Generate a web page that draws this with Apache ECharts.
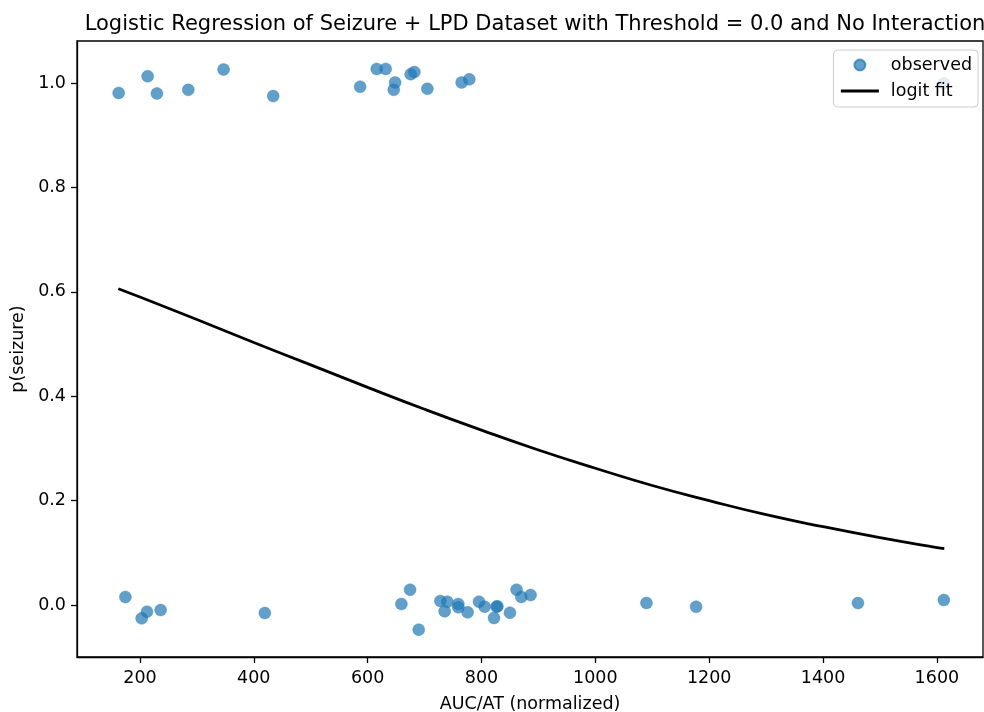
<!DOCTYPE html>
<html>
<head>
<meta charset="utf-8">
<script src="https://cdn.jsdelivr.net/npm/echarts@6/dist/echarts.min.js"></script>
<style>
html,body{margin:0;padding:0;background:#fff;}
#chart{width:984px;height:712px;}
</style>
</head>
<body>
<div id="chart"></div>
<script>
// Observed points (x = AUC/AT normalized, y = jittered outcome)
const obsX = [162.6, 213.5, 229.8, 284.9, 346.9, 434.1, 586.8, 615.9, 631.7, 648.2, 645.8, 675.6, 682.1, 704.9, 765.1, 778.6, 1612.2,
              174.4, 212.3, 203.0, 236.3, 419.4, 659.3, 674.5, 689.7, 727.7, 740.0, 735.3, 759.3, 759.3, 775.6, 795.6, 805.5, 826.5, 828.0, 822.0, 850.0, 861.6, 869.9, 886.2, 1089.8, 1177.0, 1461.3, 1612.2];
const obsY = [0.981, 1.013, 0.980, 0.987, 1.026, 0.975, 0.993, 1.027, 1.027, 1.001, 0.987, 1.017, 1.021, 0.989, 1.001, 1.007, 0.999,
              0.0153, -0.0128, -0.0255, -0.0096, -0.0153, 0.0019, 0.0293, -0.0473, 0.0077, 0.0063, -0.0121, 0.0019, -0.0044, -0.0140, 0.0063, -0.0032, -0.0032, -0.0025, -0.0249, -0.0147, 0.0293, 0.0153, 0.0192, 0.0038, -0.0032, 0.0038, 0.0096];
// Logit fit curve
const fitX = [162, 200, 300, 400, 500, 600, 700, 800, 900, 1000, 1100, 1200, 1300, 1400, 1500, 1600, 1613];
const fitY = [0.606, 0.590, 0.547, 0.503, 0.460, 0.417, 0.375, 0.335, 0.297, 0.262, 0.229, 0.200, 0.173, 0.150, 0.129, 0.110, 0.108];
// Tick labels
const xTicks = [200, 400, 600, 800, 1000, 1200, 1400, 1600];
const yTicks = [0.0, 0.2, 0.4, 0.6, 0.8, 1.0];

const FONT = 'DejaVu Sans';
const FS = 17.5;
const PT = 'rgba(31,119,180,0.88)';
const chart = echarts.init(document.getElementById('chart'), null, {renderer: 'canvas'});
chart.setOption({
  animation: false,
  textStyle: {fontFamily: FONT, color: '#000'},
  title: {
    text: 'Logistic Regression of Seizure + LPD Dataset with Threshold = 0.0 and No Interaction',
    left: 530, top: 9, textAlign: 'center',
    textStyle: {fontFamily: FONT, fontSize: 21, fontWeight: 'normal', color: '#000'}
  },
  legend: {
    orient: 'vertical',
    right: 6, top: 50,
    padding: [5, 6, 6, 6],
    itemWidth: 38, itemHeight: 11, itemGap: 6,
    borderColor: '#cccccc', borderWidth: 1, borderRadius: 4,
    backgroundColor: 'rgba(255,255,255,0.8)',
    textStyle: {fontFamily: FONT, fontSize: FS, color: '#000', lineHeight: 20, padding: [0, 0, 0, 7]},
    data: [
      {name: 'observed', icon: 'circle', itemStyle: {color: PT}},
      {name: 'logit fit', itemStyle: {color: 'rgba(0,0,0,0)', borderColor: 'rgba(0,0,0,0)', borderWidth: 0}, lineStyle: {color: '#000', width: 2.8}}
    ]
  },
  grid: {left: 77, right: 1, top: 41, bottom: 55, containLabel: false, outerBoundsMode: 'none',
         show: true, borderColor: '#000', borderWidth: 1.3, backgroundColor: 'transparent'},
  xAxis: {
    type: 'value', min: 89.4, max: 1681,
    name: 'AUC/AT (normalized)', nameLocation: 'middle', nameGap: 38,
    nameTextStyle: {fontFamily: FONT, fontSize: FS, color: '#000'},
    axisLine: {show: true, onZero: false, lineStyle: {color: '#000', width: 1.3}},
    axisTick: {show: true, inside: false, length: 6, lineStyle: {color: '#000', width: 1.3}, customValues: xTicks},
    axisLabel: {margin: 12, fontFamily: FONT, fontSize: FS, color: '#000', customValues: xTicks, formatter: v => String(Math.round(v))},
    splitLine: {show: false}
  },
  yAxis: {
    type: 'value', min: -0.0996, max: 1.0805,
    name: 'p(seizure)', nameLocation: 'middle', nameGap: 46, nameRotate: 90,
    nameTextStyle: {fontFamily: FONT, fontSize: FS, color: '#000'},
    axisLine: {show: true, onZero: false, lineStyle: {color: '#000', width: 1.3}},
    axisTick: {show: true, inside: false, length: 6, lineStyle: {color: '#000', width: 1.3}, customValues: yTicks},
    axisLabel: {margin: 11, fontFamily: FONT, fontSize: FS, color: '#000', customValues: yTicks, formatter: v => v.toFixed(1)},
    splitLine: {show: false}
  },
  series: [
    {
      name: 'observed', type: 'scatter',
      symbol: 'circle', symbolSize: 12,
      itemStyle: {color: PT, borderColor: PT, borderWidth: 0.5},
      data: obsX.map((x, i) => [x, obsY[i]]),
      z: 2
    },
    {
      name: 'logit fit', type: 'line',
      smooth: true, showSymbol: false, symbol: 'none',
      lineStyle: {color: '#000', width: 2.8},
      itemStyle: {color: '#000'},
      data: fitX.map((x, i) => [x, fitY[i]]),
      z: 3
    }
  ]
});
</script>
</body>
</html>
